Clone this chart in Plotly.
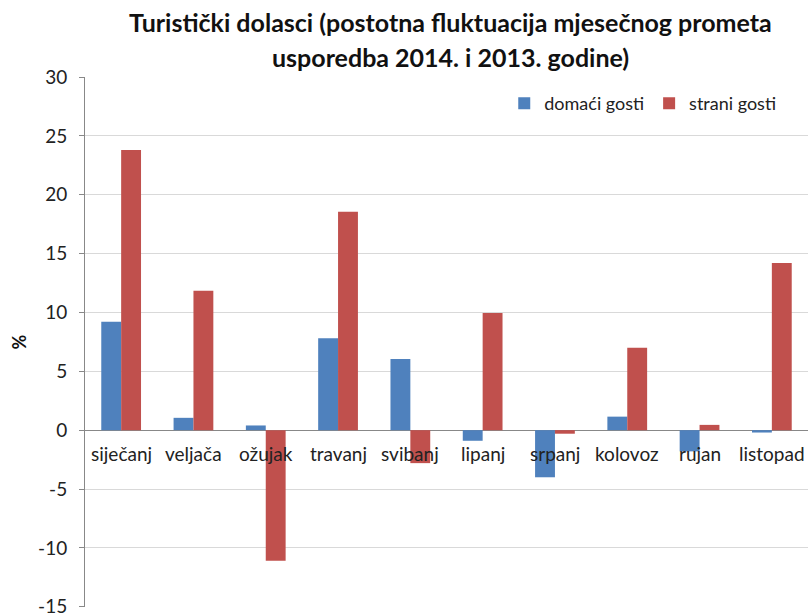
import plotly.graph_objects as go

months = ["siječanj", "veljača", "ožujak", "travanj", "svibanj", "lipanj",
          "srpanj", "kolovoz", "rujan", "listopad"]
domaci = [9.2, 1.05, 0.4, 7.8, 6.05, -0.9, -4.0, 1.15, -1.8, -0.2]
strani = [23.8, 11.85, -11.1, 18.55, -2.8, 9.95, -0.3, 7.0, 0.45, 14.2]
y_ticks = [-15, -10, -5, 0, 5, 10, 15, 20, 25, 30]
y_tick_text = ["-15", "-10", "-5", "0", "5", "10", "15", "20", "25", "30"]
title_lines = ["Turistički dolasci (postotna fluktuacija mjesečnog prometa",
               "usporedba 2014. i 2013. godine)"]

FONT = "Lato, Open Sans, sans-serif"

fig = go.Figure()
fig.add_trace(go.Bar(x=months, y=domaci, name="domaći gosti",
                     marker=dict(color="#4F81BD", line=dict(width=0))))
fig.add_trace(go.Bar(x=months, y=strani, name="strani gosti",
                     marker=dict(color="#C0504D", line=dict(width=0))))

for m in months:
    fig.add_annotation(x=m, y=0, xref="x", yref="y", text=m, showarrow=False,
                       yanchor="top", yshift=-10,
                       font=dict(family=FONT, size=19, color="#222"))

for i, line in enumerate(title_lines):
    fig.add_annotation(x=0.505, y=[1.104, 1.038][i], xref="paper", yref="paper",
                       text="<b>" + line + "</b>", showarrow=False,
                       xanchor="center", yanchor="middle",
                       font=dict(family=FONT, size=25, color="#111"))

fig.update_layout(
    width=810, height=613,
    paper_bgcolor="white", plot_bgcolor="white",
    margin=dict(l=85, r=2, t=77, b=6, autoexpand=False),
    barmode="group", bargap=0.45, bargroupgap=0,
    legend=dict(orientation="h", x=0.963, xanchor="right", y=0.95, yanchor="middle",
                font=dict(family=FONT, size=18, color="#222"),
                bgcolor="rgba(0,0,0,0)", traceorder="normal"),
    font=dict(family=FONT),
)
fig.update_xaxes(showticklabels=False, showgrid=False, showline=False, zeroline=False,
                 ticks="", automargin=False)
fig.update_yaxes(range=[-15.02, 30], tickvals=y_ticks, ticktext=y_tick_text,
                 ticks="outside", ticklen=5, automargin=False, ticklabelstandoff=8,
                 ticklabeloverflow="allow",
                 tickcolor="#888", showline=True, linecolor="#888", linewidth=1,
                 showgrid=True, gridcolor="#D9D9D9", gridwidth=1,
                 zeroline=True, zerolinecolor="#888", zerolinewidth=1,
                 tickfont=dict(family=FONT, size=19, color="#222"),
                 title=dict(text="<b>%</b>", font=dict(family=FONT, size=18, color="#111"),
                            standoff=6))

fig.write_html("out.html", config={"displayModeBar": False},
               post_script="document.body.style.margin='0';")
